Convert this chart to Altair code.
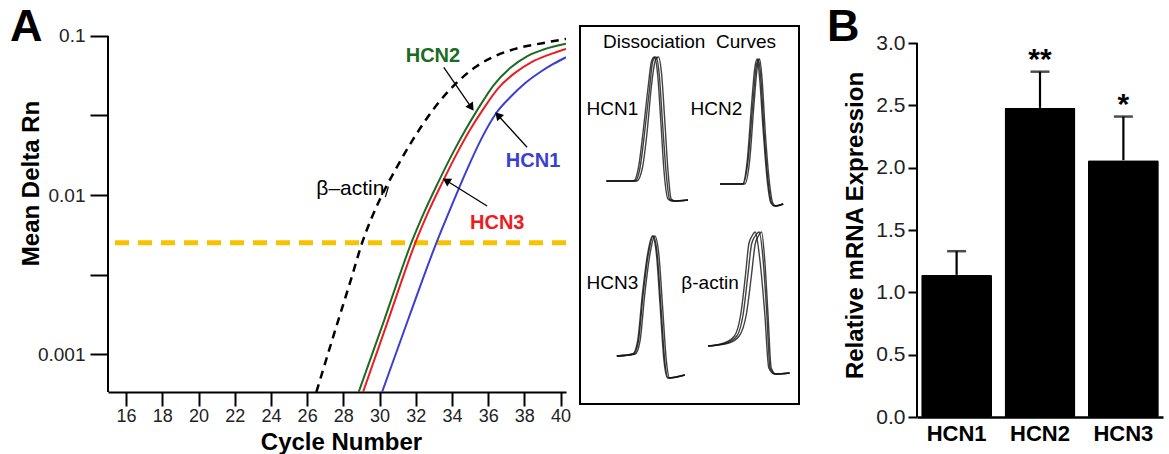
import altair as alt
import pandas as pd

# ---------------- Panel A : amplification curves ----------------
actin_cycle = [26.51, 27.66, 28.4, 29.04, 30.01, 30.88, 31.8, 32.6, 33.4, 34.3, 35.3, 36.5, 37.8, 39.0, 40.3]
actin_rn = [0.000577, 0.001549, 0.002884, 0.005012, 0.009333, 0.01445, 0.02188, 0.0302, 0.03981, 0.05129,
            0.06383, 0.07586, 0.08472, 0.09016, 0.09594]

hcn2_cycle = [28.85, 30.22, 31.0, 31.76, 32.5, 33.2, 34.03, 34.75, 35.43, 36.3, 37.23, 38.17, 39.06, 40.3]
hcn2_rn = [0.000577, 0.001585, 0.002884, 0.005012, 0.007943, 0.01175, 0.0182, 0.0257, 0.03467, 0.04898,
           0.0631, 0.0748, 0.0822, 0.0893]

hcn3_cycle = [29.09, 30.44, 31.22, 31.98, 32.72, 33.43, 34.27, 35.0, 35.7, 36.55, 37.48, 38.4, 39.3, 40.3]
hcn3_rn = [0.000577, 0.001585, 0.002884, 0.005012, 0.007943, 0.01175, 0.0182, 0.0257, 0.03428, 0.04677,
           0.05861, 0.06855, 0.07586, 0.08299]

hcn1_cycle = [30.14, 31.59, 33.14, 34.02, 34.85, 35.68, 36.45, 37.23, 38.05, 38.88, 39.6, 40.3]
hcn1_rn = [0.000577, 0.00166, 0.0050, 0.00877, 0.0146, 0.0232, 0.0328, 0.0413, 0.0506, 0.0594, 0.0667, 0.0735]

threshold = 0.005
x_ticks_A = list(range(16, 41, 2))
y_ticks_A = [0.001, 0.0031623, 0.01, 0.031623, 0.1]

# annotation texts (label, cycle, value)
ann_labels = ["HCN2", "HCN1", "HCN3", "\u03b2\u2013actin"]
ann_cycle = [32.95, 38.48, 36.5, 28.39]
ann_rn = [0.0748, 0.01637, 0.0067, 0.0109]
ann_color = ["#1b6b22", "#3a3fd2", "#ec1c24", "black"]
ann_weight = ["bold", "bold", "bold", "normal"]

# arrows (start -> tip)
arr_x0 = [33.55, 38.15, 35.94, 30.32]
arr_y0 = [0.0635, 0.01995, 0.00853, 0.0097]
arr_x1 = [35.03, 36.59, 33.75, 30.49]
arr_y1 = [0.0361, 0.0313, 0.0122, 0.0113]
arr_has_head = [True, True, True, False]
arr_angle = [145.6, 317.5, 301.9, 0]

# ---------------- Inset : dissociation (melt) curves ----------------
melt_D1 = [0.01, 0.01, 0.14, 0.51, 0.94, 1.21, 1.25, 1.08, 0.61, 0.11, -0.17, -0.19, -0.18]
melt_T1 = [
    [77.3, 80.9, 81.5, 82.1, 82.7, 83.1, 83.5, 83.9, 84.3, 84.75, 85.2, 85.7, 87.5],
    [77.3, 81.1, 81.8, 82.4, 82.9, 83.4, 83.8, 84.2, 84.6, 85.0, 85.4, 85.9, 87.5],
    [77.3, 80.7, 81.3, 81.9, 82.5, 82.95, 83.3, 83.7, 84.1, 84.5, 85.0, 85.5, 87.5],
]
melt_D2 = [-0.02, -0.02, 0.21, 0.78, 1.14, 1.23, 1.04, 0.51, -0.02, -0.21, -0.24, -0.22]
melt_T2 = [
    [79.5, 82.4, 83.0, 83.6, 84.0, 84.3, 84.6, 85.0, 85.55, 85.95, 86.4, 87.4],
    [79.5, 82.6, 83.2, 83.75, 84.15, 84.45, 84.75, 85.15, 85.7, 86.1, 86.5, 87.4],
    [79.5, 82.3, 82.9, 83.45, 83.85, 84.15, 84.45, 84.9, 85.45, 85.85, 86.3, 87.4],
]
melt_D3 = [0.0, 0.02, 0.15, 0.62, 1.02, 1.2, 1.02, 0.52, -0.05, -0.22, -0.19]
melt_T3 = [
    [78.6, 80.7, 81.3, 81.9, 82.55, 83.15, 83.65, 84.1, 84.6, 85.05, 87.1],
    [78.6, 80.9, 81.5, 82.1, 82.75, 83.35, 83.85, 84.3, 84.8, 85.2, 87.1],
    [78.6, 80.6, 81.2, 81.8, 82.45, 83.05, 83.55, 84.0, 84.5, 84.95, 87.1],
]
melt_D4 = [0.1, 0.13, 0.2, 0.42, 0.82, 1.12, 1.2, 1.24, 0.95, 0.42, -0.12, -0.18, -0.17]
melt_T4 = [
    [78.0, 80.3, 81.6, 82.4, 83.0, 83.45, 83.9, 84.4, 84.9, 85.35, 85.75, 86.4, 88.2],
    [78.0, 80.6, 81.9, 82.8, 83.45, 83.9, 84.3, 84.7, 85.1, 85.5, 85.9, 86.5, 88.2],
    [78.0, 80.0, 81.3, 82.1, 82.7, 83.1, 83.5, 83.9, 84.5, 85.1, 85.6, 86.3, 88.2],
]
melt_names = ["HCN1", "HCN2", "HCN3", "\u03b2-actin"]

# ---------------- Panel B : relative expression ----------------
genes = ["HCN1", "HCN2", "HCN3"]
expr_mean = [1.14, 2.48, 2.06]
expr_err = [0.19, 0.29, 0.35]
expr_sig = ["", "**", "*"]
y_ticks_B = [0.0, 0.5, 1.0, 1.5, 2.0, 2.5, 3.0]

FONT = "Liberation Sans"

# ================= build panel A =================
A_W, A_H = 458, 366
A_YMIN, A_YMAX = 0.0005768, 0.11558

rows = []
for name, cs, vs in [("HCN1", hcn1_cycle, hcn1_rn), ("HCN3", hcn3_cycle, hcn3_rn), ("HCN2", hcn2_cycle, hcn2_rn)]:
    for i, (c, v) in enumerate(zip(cs, vs)):
        rows.append({"gene": name, "cycle": c, "rn": v, "o": i})
curves = pd.DataFrame(rows)
actin = pd.DataFrame({"cycle": actin_cycle, "rn": actin_rn})

xA = alt.X("cycle:Q", scale=alt.Scale(domain=[15, 40.3], nice=False, zero=False),
           axis=alt.Axis(values=x_ticks_A, tickCount=40, format="d", title="Cycle Number", grid=False,
                         tickSize=14, tickWidth=2, domainWidth=2, domainColor="black", tickColor="black",
                         labelFontSize=18, labelColor="#222", labelPadding=1, labelFlush=False,
                         labelOverlap=False, titleFontSize=24, titleFontWeight="bold", titleColor="black",
                         titleX=233, titleY=57, titleBaseline="alphabetic"))
yA = alt.Y("rn:Q", scale=alt.Scale(type="log", domain=[A_YMIN, A_YMAX], nice=False),
           axis=alt.Axis(values=y_ticks_A, tickCount=40,
                         labelExpr="abs(log(datum.value)/LN10 - round(log(datum.value)/LN10)) < 0.01 ? format(datum.value, '~g') : ''",
                         title="Mean Delta Rn", grid=False, domain=False, tickSize=18, tickWidth=2,
                         tickColor="black", labelFontSize=19, labelColor="#222", labelPadding=5,
                         labelOverlap=False, titleFontSize=24, titleFontWeight="bold", titleColor="black",
                         titleX=-70, titleY=157, titleBaseline="alphabetic"))

gene_colors = alt.Scale(domain=["HCN1", "HCN2", "HCN3"], range=["#3a3fd2", "#1b6b22", "#ec1c24"])

lines = alt.Chart(curves).mark_line(strokeWidth=2, clip=True, interpolate="monotone").encode(
    x=xA, y=yA, color=alt.Color("gene:N", scale=gene_colors, legend=None), order="o:Q", detail="gene:N")
actin_line = alt.Chart(actin).mark_line(strokeWidth=2.5, color="black", strokeDash=[8, 6], clip=True,
                                         interpolate="monotone").encode(x="cycle:Q", y="rn:Q")
thr = alt.Chart(pd.DataFrame({"rn": [threshold]})).mark_rule(
    color="#f7c300", strokeWidth=5, strokeDash=[14, 9]).encode(y="rn:Q")
y_domain_A = alt.Chart(pd.DataFrame({"cycle": [15], "lo": [A_YMIN], "hi": [0.1]})).mark_rule(
    color="black", strokeWidth=2).encode(x="cycle:Q", y="lo:Q", y2="hi:Q")

ann = pd.DataFrame({"label": ann_labels, "cycle": ann_cycle, "rn": ann_rn, "color": ann_color, "w": ann_weight})
ann_bold = alt.Chart(ann[ann["w"] == "bold"]).mark_text(fontSize=20, fontWeight="bold").encode(
    x="cycle:Q", y="rn:Q", text="label:N", color=alt.Color("color:N", scale=None))
ann_norm = alt.Chart(ann[ann["w"] == "normal"]).mark_text(fontSize=21).encode(
    x="cycle:Q", y="rn:Q", text="label:N", color=alt.Color("color:N", scale=None))

arr = pd.DataFrame({"x0": arr_x0, "y0": arr_y0, "x1": arr_x1, "y1": arr_y1,
                    "has_head": arr_has_head, "ang": arr_angle})
arr_lines = alt.Chart(arr).mark_rule(color="black", strokeWidth=1.3).encode(
    x="x0:Q", y="y0:Q", x2="x1:Q", y2="y1:Q")
arr_heads = alt.Chart(arr[arr["has_head"]]).mark_point(shape="triangle", filled=True, color="black", size=85,
                                                       opacity=1).encode(
    x="x1:Q", y="y1:Q", angle=alt.Angle("ang:Q", scale=None))

letterA = alt.Chart(pd.DataFrame({"t": ["A"]})).mark_text(
    fontSize=45, fontWeight="bold", align="left", baseline="alphabetic", color="black").encode(
    x=alt.value(-98), y=alt.value(15), text="t:N")

chartA = alt.layer(y_domain_A, thr, actin_line, lines, arr_lines, arr_heads, ann_bold, ann_norm, letterA).properties(
    width=A_W, height=A_H)

# ================= build inset =================
I_W, I_H = 219, 378
col_shift = [0.0, 12.0, 0.0, 12.0]
row_base = [2.22, 2.22, 0.48, 0.48]
mrows = []
for g, (D, Ts) in enumerate([(melt_D1, melt_T1), (melt_D2, melt_T2), (melt_D3, melt_T3), (melt_D4, melt_T4)]):
    for k, T in enumerate(Ts):
        for i, (t, d) in enumerate(zip(T, D)):
            mrows.append({"trace": f"{g}-{k}", "t": t + col_shift[g], "d": d + row_base[g], "o": i})
melt = pd.DataFrame(mrows)

label_T = [78.06, 79.06, 78.06, 78.25]
label_D = [0.73, 0.73, 0.73, 0.73]
mlab = pd.DataFrame({"label": melt_names,
                     "t": [label_T[i] + col_shift[i] for i in range(4)],
                     "d": [label_D[i] + row_base[i] for i in range(4)]})

xI = alt.X("t:Q", scale=alt.Scale(domain=[74, 101.375], nice=False, zero=False), axis=None)
yI = alt.Y("d:Q", scale=alt.Scale(domain=[0, 3.78], nice=False, zero=False), axis=None)
melt_lines = alt.Chart(melt).mark_line(color="#111111", strokeWidth=1.4, opacity=0.8, interpolate="monotone").encode(
    x=xI, y=yI, detail="trace:N", order="o:Q")
melt_text = alt.Chart(mlab).mark_text(fontSize=19, color="black").encode(x="t:Q", y="d:Q", text="label:N")
inset_title = alt.Chart(pd.DataFrame({"label": ["Dissociation\u00a0 Curves"], "t": [87.69], "d": [3.62]})).mark_text(
    fontSize=19, color="black").encode(x="t:Q", y="d:Q", text="label:N")
inset = alt.layer(melt_lines, melt_text, inset_title).properties(
    width=I_W, height=I_H, view=alt.ViewBackground(stroke="black", strokeWidth=2))

# empty spacer between the inset and panel B
spacer = alt.Chart(pd.DataFrame({"v": [0]})).mark_point(opacity=0).encode(
    x=alt.X("v:Q", axis=None), y=alt.Y("v:Q", axis=None)).properties(width=90, height=10)

# ================= build panel B =================
B_W, B_H = 246, 391
B_YMAX = 3.1364
dfB = pd.DataFrame({"gene": genes, "mean": expr_mean,
                    "upper": [m + e for m, e in zip(expr_mean, expr_err)], "sig": expr_sig})
xB = alt.X("gene:N", sort=genes, scale=alt.Scale(paddingInner=0.15, paddingOuter=0.05),
           axis=alt.Axis(title=None, labelAngle=0, ticks=False, domainWidth=2.5, domainColor="black",
                         labelFontSize=22, labelFontWeight="bold", labelColor="black", labelPadding=6))
yB = alt.Y("mean:Q", scale=alt.Scale(domain=[0, B_YMAX], nice=False, zero=True),
           axis=alt.Axis(values=y_ticks_B, tickCount=40, format=".1f", domain=False, tickSize=9, tickWidth=2,
                         tickColor="black", labelFontSize=21, labelColor="#222", labelPadding=3, grid=False,
                         title="Relative mRNA Expression", titleFontSize=24, titleFontWeight="bold",
                         titleColor="black", titleX=-55, titleY=199, titleBaseline="alphabetic"))
baseB = alt.Chart(dfB)
bars = baseB.mark_bar(color="black", cornerRadius=1.5).encode(x=xB, y=yB)
err = baseB.mark_rule(color="black", strokeWidth=2.2).encode(x="gene:N", y="mean:Q", y2="upper:Q")
caps = baseB.mark_tick(color="black", thickness=2.5, size=19).encode(x="gene:N", y="upper:Q")
sig = baseB.mark_text(fontSize=30, fontWeight="bold", baseline="alphabetic", dy=-3, color="black").encode(
    x="gene:N", y="upper:Q", text="sig:N")
y_domain_B = alt.Chart(pd.DataFrame({"lo": [0.0], "hi": [3.0]})).mark_rule(color="black", strokeWidth=2).encode(
    x=alt.value(0), y="lo:Q", y2="hi:Q")
letterB = alt.Chart(pd.DataFrame({"t": ["B"]})).mark_text(
    fontSize=45, fontWeight="bold", align="left", baseline="alphabetic", color="black").encode(
    x=alt.value(-90), y=alt.value(15), text="t:N")
chartB = alt.layer(bars, err, caps, sig, y_domain_B, letterB).properties(width=B_W, height=B_H)

chart = alt.hconcat(chartA, inset, spacer, chartB, spacing=14, bounds="flush").properties(
    padding={"left": 10, "top": 5, "right": 4, "bottom": 0}
).configure(font=FONT).configure_view(stroke=None)

chart.save("out.html", embed_options={"renderer": "svg", "actions": False})
